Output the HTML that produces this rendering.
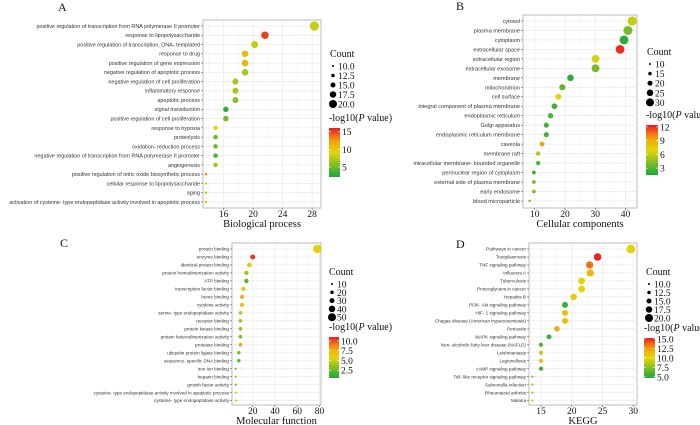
<!DOCTYPE html>
<html><head><meta charset="utf-8"><style>
html,body{margin:0;padding:0;background:#fff;width:700px;height:425px;overflow:hidden}
svg{display:block}
.lab{font-family:"Liberation Sans",sans-serif;fill:#333}
.ser{font-family:"Liberation Serif",serif;fill:#111}
</style></head><body>
<svg id="chart" width="700" height="425" viewBox="0 0 700 425"></svg>
<script>
// ---- Panel A: Biological process ----
const catsA = ["positive regulation of transcription from RNA polymerase II promoter","response to lipopolysaccharide","positive regulation of transcription, DNA- templated","response to drug","positive regulation of gene expression","negative regulation of apoptotic process","negative regulation of cell proliferation","inflammatory response","apoptotic process","signal transduction","positive regulation of cell proliferation","response to hypoxia","proteolysis","oxidation- reduction process","negative regulation of transcription from RNA polymerase II promoter","angiogenesis","positive regulation of nitric oxide biosynthetic process","cellular response to lipopolysaccharide","aging","activation of cysteine- type endopeptidase activity involved in apoptotic process"];
const valsA = [28.3,21.6,20.2,18.9,18.9,18.9,17.6,17.6,17.6,16.3,16.3,14.9,14.9,14.9,14.9,14.9,13.6,13.6,13.6,13.6];
const pA = [8,15,8,11,11,7,7,7,6,3,5,9,5,5,4,7,13,9,8,10];
const ticksA = [16,20,24,28];
const sizeTicksA = ["10.0","12.5","15.0","17.5","20.0"];
const colTicksA = [15,10,5];
// ---- Panel B: Cellular components ----
const catsB = ["cytosol","plasma membrane","cytoplasm","extracellular space","extracellular region","extracellular exosome","membrane","mitochondrion","cell surface","integral component of plasma membrane","endoplasmic reticulum","Golgi apparatus","endoplasmic reticulum membrane","caveola","membrane raft","intracellular membrane- bounded organelle","perinuclear region of cytoplasm","external side of plasma membrane","early endosome","blood microparticle"];
const valsB = [42.2,40.8,39.5,38.2,30.1,30.1,21.8,19.1,17.8,16.5,15.2,13.8,13.8,12.4,11.1,11.1,9.7,9.7,9.7,8.3];
const pB = [6,4,2,12,6.5,4,2,3.5,7,2.5,3,2.5,2.5,9.5,5.5,3,2.5,4,4.5,4];
const ticksB = [10,20,30,40];
const sizeTicksB = ["10","15","20","25","30"];
const colTicksB = [12,9,6,3];
// ---- Panel C: Molecular function ----
const catsC = ["protein binding","enzyme binding","identical protein binding","protein homodimerization activity","ATP binding","transcription factor binding","heme binding","cytokine activity","serine- type endopeptidase activity","receptor binding","protein kinase binding","protein heterodimerization activity","protease binding","ubiquitin protein ligase binding","sequence- specific DNA binding","iron ion binding","heparin binding","growth factor activity","cysteine- type endopeptidase activity involved in apoptotic process","cysteine- type endopeptidase activity"];
const valsC = [78,20,17,14.3,14.3,11.6,10.4,10.4,9,9,9,9,9,7.5,7.5,4.8,4.8,4.8,4.8,4.8];
const pC = [6,10.5,5.5,4,2,6.5,7.5,7,4.5,4,3.5,3,8,3,2,3,4,3,7.5,5];
const ticksC = [20,40,60,80];
const sizeTicksC = ["10","20","30","40","50"];
const colTicksC = ["10.0","7.5","5.0","2.5"];
// ---- Panel D: KEGG ----
const catsD = ["Pathways in cancer","Toxoplasmosis","TNF signaling pathway","Influenza A","Tuberculosis","Proteoglycans in cancer","Hepatitis B","PI3K- Akt signaling pathway","HIF- 1 signaling pathway","Chagas disease (American trypanosomiasis)","Pertussis","MAPK signaling pathway","Non- alcoholic fatty liver disease (NAFLD)","Leishmaniasis","Legionellosis","cAMP signaling pathway","Toll- like receptor signaling pathway","Salmonella infection","Rheumatoid arthritis","Malaria"];
const valsD = [29.6,24.2,22.9,23,21.6,21.6,20.3,18.9,18.9,18.9,17.6,16.3,15,15,15,15,13.6,13.6,13.6,13.6];
const pD = [10,15,13.5,11.5,10,10,10.5,5.5,11,11,12,5.5,6,9,11,5.5,7,7.5,8,9];
const ticksD = [15,20,25,30];
const sizeTicksD = ["10.0","12.5","15.0","17.5","20.0"];
const colTicksD = ["15.0","12.5","10.0","7.5","5.0"];

const NS="http://www.w3.org/2000/svg";
const svg=document.getElementById('chart');
function mk(tag,attrs,parent){const e=document.createElementNS(NS,tag);for(const k in attrs)e.setAttribute(k,attrs[k]);(parent||svg).appendChild(e);return e;}
function colorFor(t){
  t=Math.max(0,Math.min(1,t));
  const stops=[[0,[26,168,62]],[0.5,[228,214,10]],[0.75,[242,160,10]],[1,[236,24,36]]];
  for(let i=1;i<stops.length;i++){if(t<=stops[i][0]){const a=stops[i-1],b=stops[i];const u=(t-a[0])/(b[0]-a[0]);return 'rgb('+a[1].map((c,j)=>Math.round(c+(b[1][j]-c)*u)).join(',')+')';}}
  return 'rgb(236,24,36)';
}
function panel(c){
  const g=mk('g',{});
  
  
  const xs=v=>c.x0+(v-c.xlo)/(c.xhi-c.xlo)*(c.x1-c.x0);
  const ys=i=>c.rowTop+i*c.rowStep;
  mk('rect',{x:c.x0,y:c.y0,width:c.x1-c.x0,height:c.y1-c.y0,fill:'#fff',stroke:'#bbb','stroke-width':1},g);
  for(let i=0;i<c.ticks.length+1;i++){
    const step=c.ticks[1]-c.ticks[0];const v=c.ticks[0]-step/2+i*step;
    if(xs(v)>c.x0&&xs(v)<c.x1)mk('line',{x1:xs(v),x2:xs(v),y1:c.y0,y2:c.y1,stroke:'#f3f3f3','stroke-width':0.5},g);
  }
  c.ticks.forEach(t=>{
    const gl=mk('line',{x1:xs(t),x2:xs(t),y1:c.y0,y2:c.y1,stroke:'#ebebeb','stroke-width':0.8},g);
    
    
    mk('line',{x1:xs(t),x2:xs(t),y1:c.y1,y2:c.y1+2,stroke:'#555','stroke-width':0.6},g);
    const tl=mk('text',{x:xs(t),y:c.y1+9,'text-anchor':'middle','font-size':9.5,class:'ser'},g);
    tl.textContent=t;
    
    
  });
  c.cats.forEach((name,i)=>{
    const y=ys(i);
    mk('line',{x1:c.x0,x2:c.x1,y1:y,y2:y,stroke:'#ebebeb','stroke-width':0.8},g);
    mk('line',{x1:c.x0-2,x2:c.x0,y1:y,y2:y,stroke:'#555','stroke-width':0.6},g);
    const tl=mk('text',{x:c.x0-3,y:y+c.fs*0.35,'text-anchor':'end','font-size':c.fs,class:'lab'},g);
    tl.textContent=name;
    
    
  });
  const vmin=Math.min(...c.vals),vmax=Math.max(...c.vals);
  c.vals.forEach((v,i)=>{
    const r=c.rmin+(c.rmax-c.rmin)*Math.sqrt((v-vmin)/(vmax-vmin));
    const t=(c.p[i]-c.clo)/(c.chi-c.clo);
    const d=mk('circle',{cx:xs(v),cy:ys(i),r:r,fill:colorFor(t)},g);
    
    
  });
  const at=mk('text',{x:(c.x0+c.x1)/2,y:c.y1+19,'text-anchor':'middle','font-size':10.5,class:'ser'},g);
  at.textContent=c.title;
  
  
  const pl=mk('text',{x:c.letterX,y:c.letterY,'font-size':12,class:'ser'},g);
  pl.textContent=c.id;
  
  
  const lg=mk('g',{},g);
  
  
  const ct=mk('text',{x:c.lx,y:c.ly,'font-size':10,class:'ser'},lg);
  ct.textContent='Count';
  c.sizeTicks.forEach((s,i)=>{
    const y=c.ly+9+i*c.lstep;
    mk('circle',{cx:c.lx+3,cy:y,r:1+i*0.75,fill:'#000'},lg);
    const tt=mk('text',{x:c.lx+8,y:y+3.5,'font-size':9.5,class:'ser'},lg);
    tt.textContent=s;
  });
  const cg=mk('g',{},g);
  
  
  const title=mk('text',{x:c.cx,y:c.cby0-7,'font-size':10,class:'ser'},cg);
  title.innerHTML='-log10(<tspan font-style="italic">P</tspan> value)';
  const gid='grad'+c.id;
  const defs=mk('defs',{},cg);
  const lgd=mk('linearGradient',{id:gid,x1:0,y1:1,x2:0,y2:0},defs);
  for(let k=0;k<=10;k++)mk('stop',{offset:k/10,'stop-color':colorFor(k/10)},lgd);
  mk('rect',{x:c.cx,y:c.cby0,width:c.cw,height:c.cby1-c.cby0,fill:'url(#'+gid+')'},cg);
  const cys=v=>c.cby1-(v-c.clo)/(c.chi-c.clo)*(c.cby1-c.cby0);
  c.colTicks.forEach(t=>{
    const y=cys(parseFloat(t));
    mk('line',{x1:c.cx,x2:c.cx+2,y1:y,y2:y,stroke:'#fff','stroke-width':0.6},cg);
    mk('line',{x1:c.cx+c.cw-2,x2:c.cx+c.cw,y1:y,y2:y,stroke:'#fff','stroke-width':0.6},cg);
    const tt=mk('text',{x:c.cx+c.cw+2,y:y+3.5,'font-size':9.5,class:'ser'},cg);
    tt.textContent=t;
  });
}
panel({id:'A',cats:catsA,vals:valsA,p:pA,ticks:ticksA,sizeTicks:sizeTicksA,colTicks:colTicksA,
  x0:203,x1:321,y0:20,y1:208,xlo:13.2,xhi:29.2,rowTop:26,rowStep:9.26,fs:5.45,rmin:1.3,rmax:4.6,
  title:'Biological process',letterX:58,letterY:11,lx:330,ly:57,lstep:9.5,cx:329,cw:11,cby0:128,cby1:177,clo:2.2,chi:16});
panel({id:'B',cats:catsB,vals:valsB,p:pB,ticks:ticksB,sizeTicks:sizeTicksB,colTicks:colTicksB,
  x0:523,x1:637,y0:15,y1:208,xlo:6.1,xhi:43.8,rowTop:21,rowStep:9.47,fs:5.6,rmin:1.2,rmax:4.6,
  title:'Cellular components',letterX:456,letterY:10,lx:647,ly:55,lstep:9.6,cx:646,cw:12,cby0:125,cby1:175,clo:1.5,chi:12.4});
panel({id:'C',cats:catsC,vals:valsC,p:pC,ticks:ticksC,sizeTicks:sizeTicksC,colTicks:colTicksC,
  x0:232,x1:321,y0:243,y1:405,xlo:1.4,xhi:81.3,rowTop:249,rowStep:7.98,fs:4.6,rmin:1.1,rmax:4.2,
  title:'Molecular function',letterX:60,letterY:247,lx:329,ly:275,lstep:8.3,cx:329,cw:10,cby0:337,cby1:378,clo:0.5,chi:11});
panel({id:'D',cats:catsD,vals:valsD,p:pD,ticks:ticksD,sizeTicks:sizeTicksD,colTicks:colTicksD,
  x0:529,x1:637,y0:243,y1:405,xlo:13.05,xhi:30.6,rowTop:249,rowStep:7.98,fs:4.6,rmin:1.1,rmax:4.4,
  title:'KEGG',letterX:456,letterY:248,lx:646,ly:275,lstep:8.5,cx:644,cw:11,cby0:338,cby1:378,clo:4.7,chi:15.2});
</script>
</body></html>
